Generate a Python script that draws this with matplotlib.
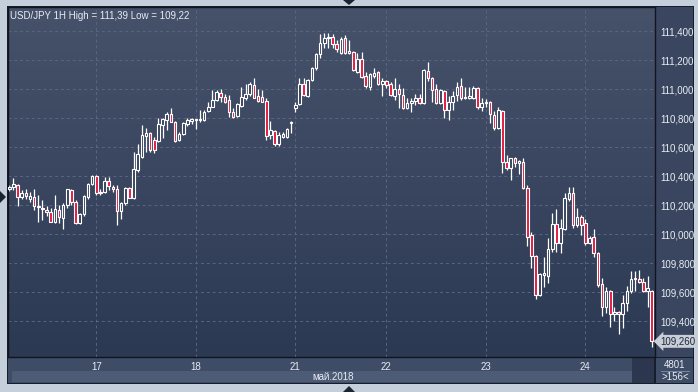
import numpy as np
import matplotlib
matplotlib.use("Agg")
import matplotlib.pyplot as plt
from matplotlib.colors import LinearSegmentedColormap
from matplotlib.patches import Rectangle, Polygon
from matplotlib.ticker import FuncFormatter, FixedLocator

title = "USD/JPY 1H High = 111,39 Low = 109,22"
month_label = "май.2018"
bars_total = "4801"
bars_shown = ">156<"

day_labels = ["17", "18", "21", "22", "23", "24"]
day_start_bar = [21, 45, 69, 91, 115, 139]
price_ticks = [109.4, 109.6, 109.8, 110.0, 110.2, 110.4, 110.6, 110.8, 111.0, 111.2, 111.4]

opens = [
    110.310, 110.324, 110.338, 110.255, 110.283, 110.241, 110.255, 110.186, 110.172, 110.166,
    110.152, 110.083, 110.166, 110.110, 110.200, 110.303, 110.221, 110.076, 110.138, 110.255,
    110.345, 110.400, 110.283, 110.290, 110.366, 110.324, 110.310, 110.159, 110.214, 110.317,
    110.248, 110.441, 110.531, 110.676, 110.697, 110.648, 110.641, 110.752, 110.786, 110.828,
    110.772, 110.648, 110.690, 110.759, 110.779, 110.786, 110.786, 110.786, 110.848, 110.876,
    110.924, 110.972, 110.945, 110.924, 110.841, 110.814, 110.883, 110.938, 110.966, 111.028,
    110.952, 110.945, 110.917, 110.683, 110.710, 110.621, 110.669, 110.669, 110.766, 110.869,
    110.897, 111.034, 110.952, 111.062, 111.145, 111.241, 111.317, 111.352, 111.359, 111.310,
    111.248, 111.352, 111.248, 111.255, 111.117, 111.207, 111.090, 111.014, 111.090, 111.117,
    111.034, 111.055, 111.034, 110.952, 111.000, 110.959, 110.869, 110.903, 110.917, 110.938,
    110.903, 111.124, 111.076, 111.000, 110.903, 110.986, 110.855, 110.910, 110.959, 111.021,
    110.938, 110.938, 110.938, 111.007, 110.876, 110.903, 110.910, 110.821, 110.731, 110.848,
    110.497, 110.455, 110.524, 110.490, 110.497, 110.317, 109.993, 109.848, 109.579, 109.717,
    109.710, 109.897, 110.069, 109.938, 110.034, 110.241, 110.283, 110.062, 110.117, 110.076,
    109.938, 109.979, 109.869, 109.655, 109.497, 109.607, 109.448, 109.462, 109.448, 109.524,
    109.607, 109.690, 109.690, 109.669, 109.607, 109.607]

highs = [
    110.338, 110.386, 110.345, 110.303, 110.310, 110.290, 110.310, 110.269, 110.234, 110.193,
    110.179, 110.269, 110.200, 110.214, 110.310, 110.310, 110.234, 110.145, 110.269, 110.352,
    110.407, 110.407, 110.310, 110.393, 110.393, 110.338, 110.338, 110.221, 110.324, 110.324,
    110.566, 110.621, 110.752, 110.731, 110.703, 110.669, 110.800, 110.800, 110.841, 110.869,
    110.779, 110.703, 110.772, 110.800, 110.800, 110.793, 110.855, 110.855, 110.910, 110.993,
    110.993, 111.000, 110.966, 110.959, 110.869, 110.903, 111.014, 111.034, 111.048, 111.076,
    111.000, 110.993, 110.938, 110.779, 110.717, 110.703, 110.703, 110.731, 110.779, 110.910,
    111.076, 111.076, 111.069, 111.152, 111.248, 111.379, 111.390, 111.385, 111.379, 111.338,
    111.359, 111.372, 111.338, 111.262, 111.248, 111.255, 111.117, 111.110, 111.145, 111.124,
    111.076, 111.062, 111.048, 111.076, 111.034, 111.007, 110.938, 110.938, 110.966, 110.966,
    111.138, 111.186, 111.083, 111.034, 111.000, 110.993, 110.952, 110.986, 111.048, 111.076,
    111.014, 111.014, 111.021, 111.014, 110.938, 110.931, 110.917, 110.848, 110.876, 110.855,
    110.545, 110.524, 110.531, 110.510, 110.524, 110.338, 110.014, 109.855, 109.731, 109.841,
    109.972, 110.145, 110.172, 110.103, 110.283, 110.324, 110.324, 110.179, 110.131, 110.103,
    109.986, 110.034, 109.876, 109.697, 109.634, 109.614, 109.497, 109.469, 109.579, 109.641,
    109.745, 109.745, 109.752, 109.697, 109.710, 109.614]

lows = [
    110.297, 110.303, 110.193, 110.241, 110.241, 110.221, 110.166, 110.083, 110.097, 110.124,
    110.083, 110.076, 110.076, 110.034, 110.179, 110.200, 110.069, 110.069, 110.124, 110.241,
    110.338, 110.269, 110.269, 110.283, 110.303, 110.290, 110.062, 110.103, 110.200, 110.248,
    110.241, 110.428, 110.524, 110.566, 110.566, 110.559, 110.634, 110.662, 110.717, 110.772,
    110.634, 110.641, 110.683, 110.745, 110.759, 110.724, 110.772, 110.779, 110.841, 110.876,
    110.917, 110.910, 110.903, 110.807, 110.800, 110.807, 110.876, 110.924, 110.952, 110.938,
    110.910, 110.910, 110.648, 110.655, 110.607, 110.607, 110.662, 110.662, 110.697, 110.841,
    110.890, 110.952, 110.945, 111.055, 111.131, 111.214, 111.283, 111.283, 111.283, 111.255,
    111.241, 111.241, 111.241, 111.124, 111.110, 111.076, 111.007, 110.993, 111.076, 111.028,
    110.952, 111.007, 110.952, 110.924, 110.869, 110.862, 110.862, 110.841, 110.890, 110.897,
    110.897, 111.055, 110.910, 110.897, 110.897, 110.800, 110.786, 110.855, 110.917, 110.924,
    110.931, 110.931, 110.931, 110.862, 110.848, 110.876, 110.766, 110.717, 110.724, 110.421,
    110.441, 110.372, 110.462, 110.414, 110.310, 109.917, 109.766, 109.552, 109.572, 109.634,
    109.662, 109.876, 109.876, 109.869, 110.028, 110.228, 110.041, 110.048, 109.993, 109.924,
    109.931, 109.841, 109.634, 109.434, 109.455, 109.359, 109.400, 109.310, 109.352, 109.469,
    109.593, 109.607, 109.662, 109.600, 109.497, 109.220]

closes = [
    110.324, 110.345, 110.255, 110.283, 110.262, 110.262, 110.193, 110.193, 110.179, 110.152,
    110.083, 110.172, 110.117, 110.200, 110.310, 110.221, 110.076, 110.138, 110.262, 110.345,
    110.400, 110.283, 110.290, 110.366, 110.331, 110.310, 110.159, 110.214, 110.317, 110.248,
    110.448, 110.552, 110.683, 110.697, 110.579, 110.579, 110.759, 110.793, 110.828, 110.772,
    110.641, 110.690, 110.766, 110.786, 110.793, 110.793, 110.793, 110.841, 110.876, 110.924,
    110.979, 110.945, 110.910, 110.841, 110.807, 110.897, 110.945, 110.966, 111.034, 110.938,
    110.917, 110.910, 110.676, 110.717, 110.621, 110.683, 110.690, 110.724, 110.772, 110.890,
    111.034, 110.959, 111.062, 111.145, 111.241, 111.317, 111.352, 111.359, 111.310, 111.276,
    111.345, 111.248, 111.262, 111.131, 111.207, 111.083, 111.021, 111.103, 111.110, 111.034,
    111.055, 111.028, 110.959, 111.000, 110.966, 110.869, 110.903, 110.917, 110.938, 110.903,
    111.131, 111.076, 110.993, 110.903, 110.993, 110.855, 110.910, 110.952, 111.014, 110.938,
    110.945, 110.952, 111.007, 110.876, 110.903, 110.910, 110.828, 110.731, 110.855, 110.497,
    110.455, 110.524, 110.490, 110.503, 110.317, 109.979, 109.848, 109.579, 109.724, 109.731,
    109.897, 110.069, 109.938, 110.041, 110.248, 110.283, 110.062, 110.117, 110.062, 109.938,
    109.972, 109.869, 109.648, 109.497, 109.607, 109.448, 109.462, 109.448, 109.524, 109.607,
    109.690, 109.697, 109.669, 109.607, 109.628, 109.260]

W, H = 698, 392
TXT = "#e8edf4"
FS = 7.0
plt.rcParams["font.family"] = ["Liberation Sans", "DejaVu Sans"]
plt.rcParams["font.size"] = FS


def rect(x0, y0, x1, y1):
    return [x0 / W, 1 - y1 / H, (x1 - x0) / W, (y1 - y0) / H]


fig = plt.figure(figsize=(W / 100, H / 100), dpi=100, facecolor="#c5cfdb")

# pixel-space backdrop for the widget frame and panels
bg = fig.add_axes([0, 0, 1, 1], zorder=0)
bg.set_xlim(0, W)
bg.set_ylim(H, 0)
bg.axis("off")
bg.add_patch(Rectangle((7, 6), 687, 378, fc="#161d2b", ec="none"))
bg.add_patch(Rectangle((655, 7), 38, 350, fc="#3a465f", ec="none"))
bg.add_patch(Rectangle((8, 358), 646, 25, fc="#3f4c66", ec="none"))
bg.add_patch(Rectangle((12, 371), 620, 11, fc="#4d5b76", ec="none"))
bg.add_patch(Rectangle((632, 358), 22, 25, fc="#2c374f", ec="none"))
bg.add_patch(Rectangle((656, 358), 37, 25, fc="#3f4c66", ec="none"))
bg.plot([661, 689], [371, 371], color="#8391a8", lw=0.6)
bg.text(675, 364.5, bars_total, color=TXT, ha="center", va="center")
bg.text(675, 377.5, bars_shown, color=TXT, ha="center", va="center")
bg.text(333, 377, month_label, color=TXT, ha="center", va="center")
for tri in ([(343, 0), (355, 0), (349, 5)],
            [(343, 392), (355, 392), (349, 386)],
            [(0, 191), (0, 203), (6, 197)]):
    bg.add_patch(Polygon(tri, closed=True, fc="#1b2333", ec="none"))

ax = fig.add_axes(rect(8, 7, 655, 357), zorder=1)
n = len(opens)
ax.set_xlim(-0.31, n - 0.2)
ax.set_ylim(109.152, 111.566)

grad = LinearSegmentedColormap.from_list("bg", ["#2c3953", "#3a465f", "#46516a"])
ax.imshow(np.linspace(0, 1, 256).reshape(-1, 1), cmap=grad, origin="lower",
          extent=(0, 1, 0, 1), transform=ax.transAxes, aspect="auto", zorder=0)

for v in price_ticks:
    ax.axhline(v, color="#5a6680", lw=0.7, ls=(0, (3, 3)), zorder=1)
for d in day_start_bar:
    ax.axvline(d, color="#5a6680", lw=0.7, ls=(0, (3, 3)), zorder=1)

x = np.arange(n)
o = np.array(opens)
c = np.array(closes)
bear = c < o
ax.vlines(x, lows, highs, color="white", lw=0.9, zorder=2)
ax.bar(x, np.abs(c - o), bottom=np.minimum(o, c), width=0.62,
       color=np.where(bear, "#e3173e", "#34405a"), edgecolor="white",
       linewidth=0.8, zorder=3)

ax.yaxis.tick_right()
ax.yaxis.set_major_locator(FixedLocator(price_ticks))
ax.yaxis.set_major_formatter(FuncFormatter(lambda v, p: f"{v:.3f}".replace(".", ",")))
ax.set_xticks(day_start_bar)
ax.set_xticklabels(day_labels)
ax.tick_params(axis="y", length=0, pad=4, colors=TXT, labelsize=FS)
ax.tick_params(axis="x", length=0, pad=3.5, colors=TXT, labelsize=FS)
for s in ax.spines.values():
    s.set_color("#10151f")
    s.set_linewidth(1.0)

ax.annotate(f"{closes[-1]:.3f}".replace(".", ","), xy=(1.0, closes[-1]),
            xycoords=("axes fraction", "data"), xytext=(4, 0),
            textcoords="offset points", ha="left", va="center",
            color="#1d2738", fontsize=FS, annotation_clip=False,
            bbox=dict(boxstyle="larrow,pad=0.15", fc="#c9cfd8", ec="none"))

ax.text(2 / 647, 1 - 4 / 350, title, transform=ax.transAxes, color=TXT,
        ha="left", va="top", fontsize=FS, zorder=5)

fig.savefig("out.png", dpi=100, facecolor=fig.get_facecolor())
